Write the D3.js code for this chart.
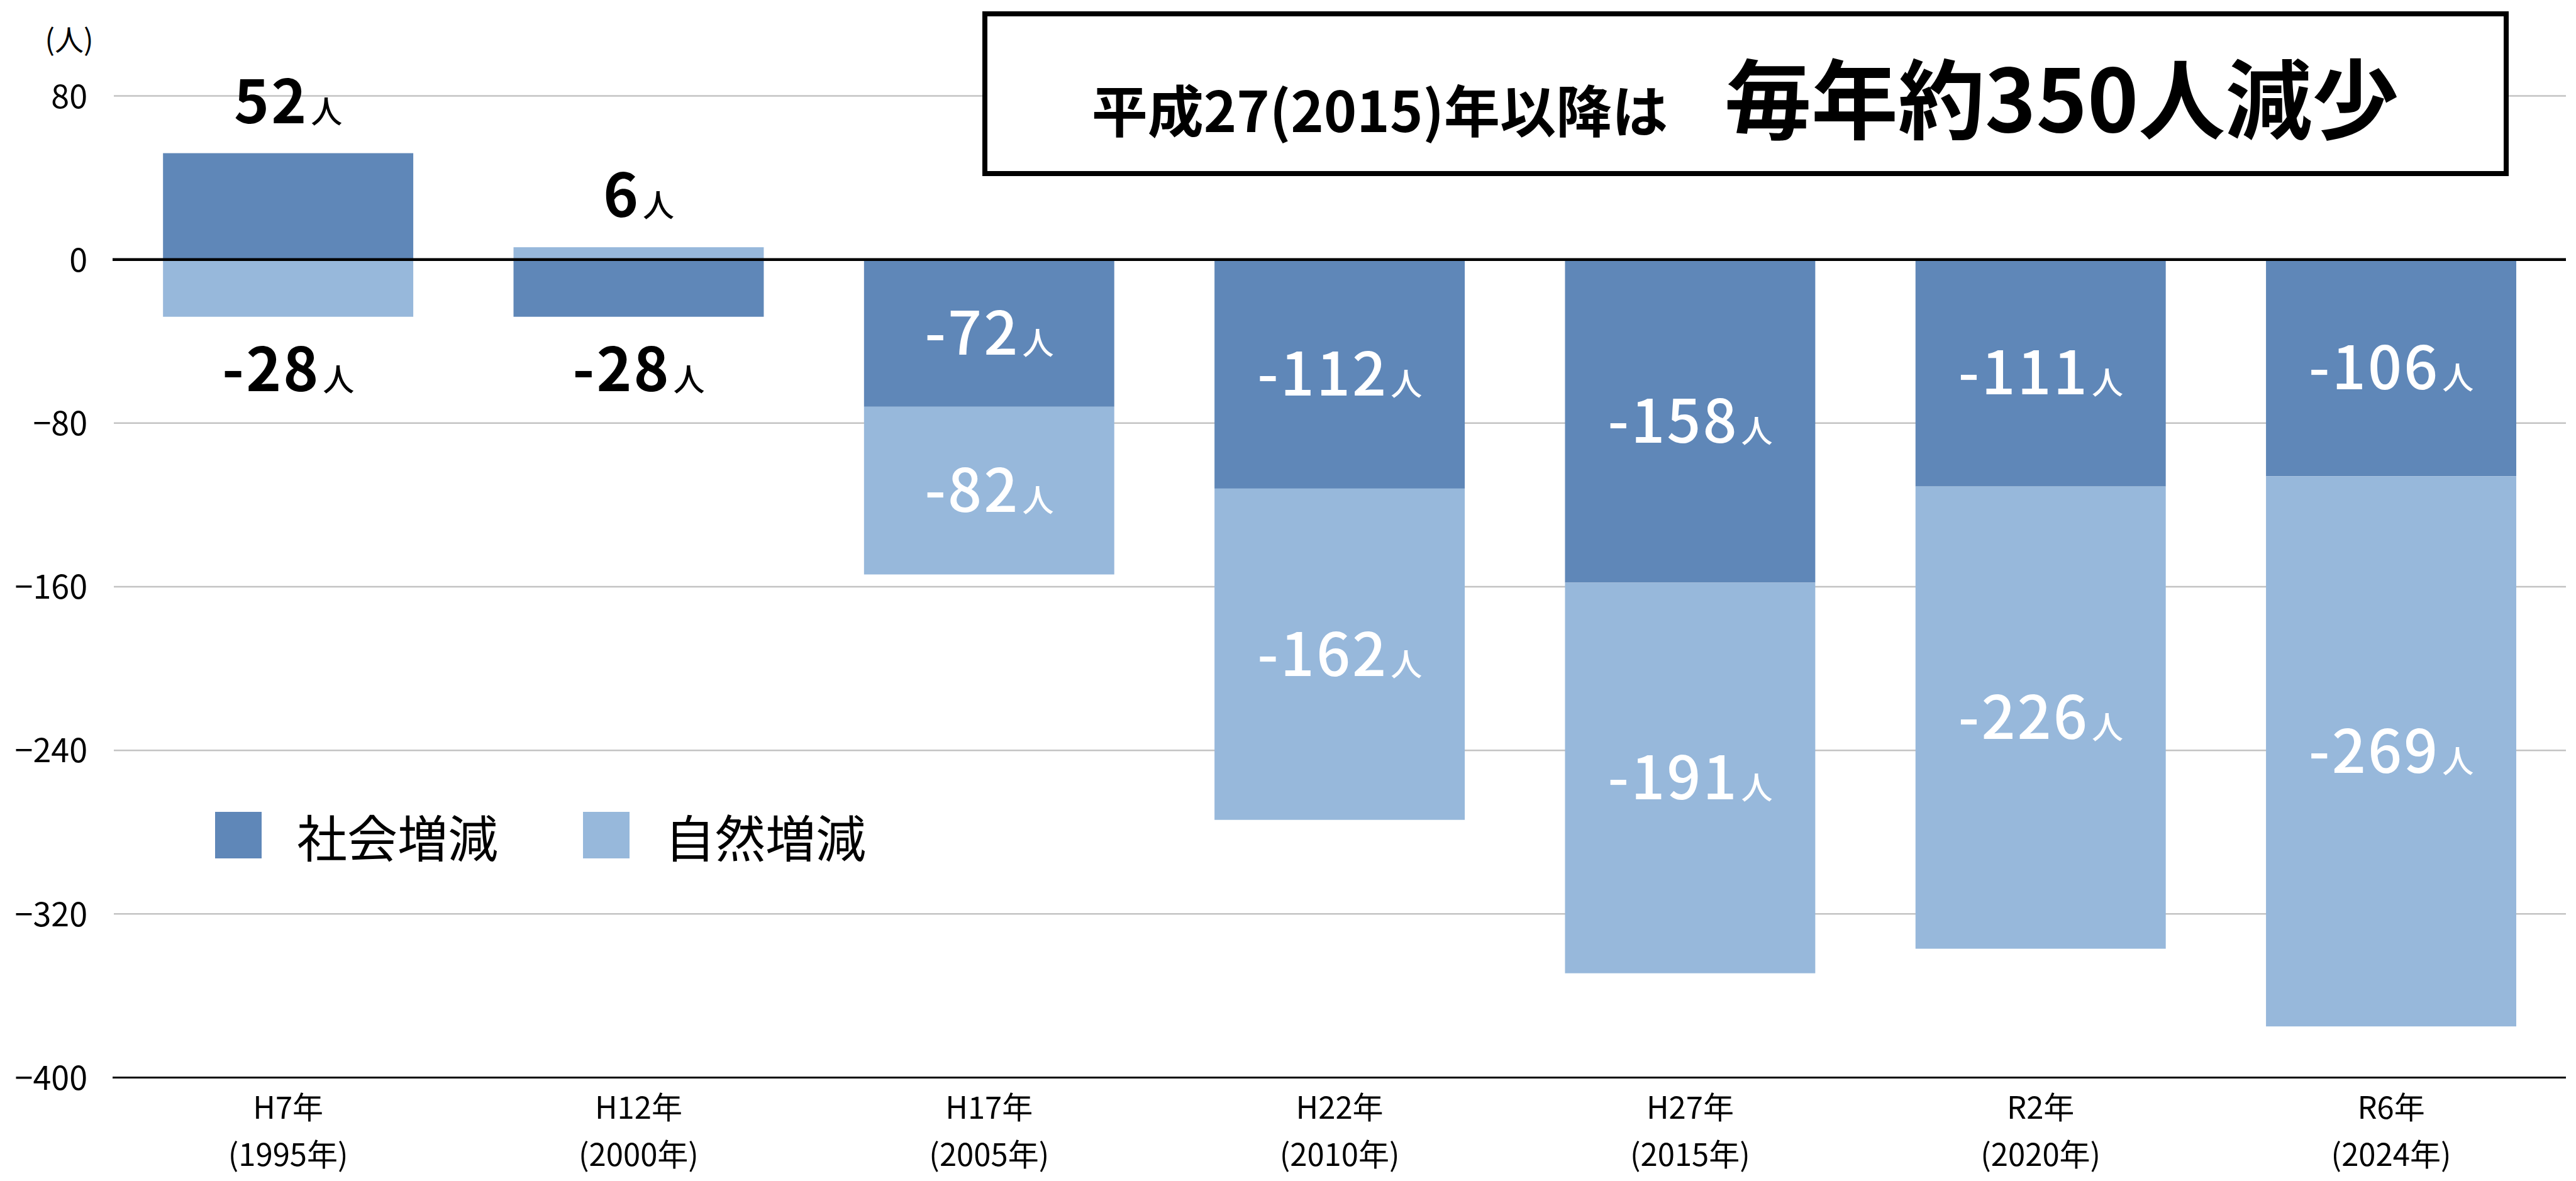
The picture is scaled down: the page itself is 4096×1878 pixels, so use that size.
<!DOCTYPE html>
<html>
<head>
<meta charset="utf-8">
<script src="https://cdn.jsdelivr.net/npm/d3@7"></script>
<style>
body { margin: 0; background: #fff; }
svg { display: block; font-family: "Noto Sans CJK JP", "Noto Sans", sans-serif; }
</style>
</head>
<body>
<script>
// data
var categories = ["H7年", "H12年", "H17年", "H22年", "H27年", "R2年", "R6年"];
var years = ["(1995年)", "(2000年)", "(2005年)", "(2010年)", "(2015年)", "(2020年)", "(2024年)"];
var social = [52, -28, -72, -112, -158, -111, -106];
var natural = [-28, 6, -82, -162, -191, -226, -269];
var seriesKeys = ["social", "natural"];
var seriesNames = ["社会増減", "自然増減"];
var yTicks = [80, 0, -80, -160, -240, -320, -400];
var unitLabel = "(人)";
var titleSmall = "平成27(2015)年以降は";
var titleBig = "毎年約350人減少";

var w = 4096, h = 1878;
var colors = { social: "#5f87b8", natural: "#97b8db" };

var svg = d3.select("body").append("svg")
    .attr("width", w)
    .attr("height", h);

var rows = categories.map(function (c, i) {
    return { cat: c, year: years[i], social: social[i], natural: natural[i] };
});

var x = d3.scaleBand()
    .domain(categories)
    .range([179.5, 4080.7])
    .paddingInner(0.286)
    .paddingOuter(0.143);

var y = d3.scaleLinear()
    .domain([-400, 80])
    .range([1713.5, 152.5]);

// gridlines
svg.append("g")
    .selectAll("line")
    .data(yTicks.filter(function (t) { return t !== 0 && t !== -400; }))
    .enter()
    .append("line")
    .attr("x1", 181).attr("x2", 4080)
    .attr("y1", function (d) { return y(d); })
    .attr("y2", function (d) { return y(d); })
    .attr("stroke", "#c3c3c3")
    .attr("stroke-width", 2.5);

// y axis labels
var yAxis = d3.axisLeft(y).tickValues(yTicks).tickSize(0).tickPadding(0);
var gy = svg.append("g")
    .attr("transform", "translate(139,0)")
    .call(yAxis);
gy.select(".domain").remove();
gy.selectAll("text")
    .attr("font-size", 52)
    .attr("fill", "#000")
    .attr("dy", "0.36em")
    .style("font-family", "'Noto Sans CJK JP', sans-serif");

svg.append("text")
    .attr("x", 110).attr("y", 60)
    .attr("text-anchor", "middle")
    .attr("dominant-baseline", "central")
    .attr("font-size", 46)
    .text(unitLabel);

// stacked bars
var stack = d3.stack().keys(seriesKeys).offset(d3.stackOffsetDiverging);
var layers = stack(rows);

svg.append("g")
    .selectAll("g")
    .data(layers)
    .enter()
    .append("g")
    .attr("fill", function (d) { return colors[d.key]; })
    .selectAll("rect")
    .data(function (d) { return d; })
    .enter()
    .append("rect")
    .attr("x", function (d) { return x(d.data.cat); })
    .attr("width", x.bandwidth())
    .attr("y", function (d) { return y(Math.max(d[0], d[1])); })
    .attr("height", function (d) { return Math.abs(y(d[0]) - y(d[1])); });

// zero line and bottom axis
svg.append("line")
    .attr("x1", 179).attr("x2", 4080)
    .attr("y1", y(0)).attr("y2", y(0))
    .attr("stroke", "#000").attr("stroke-width", 4.5);

svg.append("line")
    .attr("x1", 179).attr("x2", 4080)
    .attr("y1", y(-400)).attr("y2", y(-400))
    .attr("stroke", "#000").attr("stroke-width", 2.8);

// x labels
var gx = svg.append("g");
rows.forEach(function (r) {
    var cx = x(r.cat) + x.bandwidth() / 2;
    var t = gx.append("text")
        .attr("text-anchor", "middle")
        .attr("font-size", 49)
        .attr("fill", "#000");
    t.append("tspan").attr("x", cx).attr("y", 1779).text(r.cat);
    t.append("tspan").attr("x", cx).attr("y", 1854).text(r.year);
});

// value labels
var labels = [];
layers.forEach(function (layer) {
    layer.forEach(function (d) {
        var v = d.data[layer.key];
        var mixed = d.data.social > 0 || d.data.natural > 0;
        var lab = { cx: x(d.data.cat) + x.bandwidth() / 2, v: v };
        if (mixed) {
            lab.color = "#000";
            lab.weight = 700;
            if (v > 0) {
                lab.y = y(v) - 48;
            } else {
                var bottom = Math.min(d.data.social, d.data.natural, 0);
                lab.y = y(bottom) + 118;
            }
        } else {
            lab.color = "#fff";
            lab.weight = 500;
            lab.y = y((d[0] + d[1]) / 2) + 95 * 0.36;
        }
        labels.push(lab);
    });
});

var lt = svg.append("g")
    .selectAll("text")
    .data(labels)
    .enter()
    .append("text")
    .attr("x", function (d) { return d.cx; })
    .attr("y", function (d) { return d.y; })
    .attr("text-anchor", "middle")
    .attr("fill", function (d) { return d.color; });
lt.append("tspan")
    .attr("font-size", 95)
    .attr("font-weight", function (d) { return d.weight; })
    .attr("letter-spacing", 3)
    .text(function (d) { return d.v; });
lt.append("tspan")
    .attr("font-size", 50)
    .attr("font-weight", 500)
    .attr("dx", 4)
    .text("人");

// legend
var legend = svg.append("g");
var legendX = [342, 927];
seriesKeys.forEach(function (k, i) {
    legend.append("rect")
        .attr("x", legendX[i]).attr("y", 1291)
        .attr("width", 74).attr("height", 74)
        .attr("fill", colors[k]);
    legend.append("text")
        .attr("x", legendX[i] + 130).attr("y", 1328)
        .attr("dominant-baseline", "central")
        .attr("font-size", 80)
        .text(seriesNames[i]);
});

// title box
svg.append("rect")
    .attr("x", 1566).attr("y", 22)
    .attr("width", 2419).attr("height", 254)
    .attr("fill", "#fff")
    .attr("stroke", "#000")
    .attr("stroke-width", 8);

var title = svg.append("text")
    .attr("x", 2775).attr("y", 210)
    .attr("text-anchor", "middle")
    .attr("font-weight", 700);
title.append("tspan").attr("font-size", 89).text(titleSmall);
title.append("tspan").attr("font-size", 138).attr("dx", 90).text(titleBig);
</script>
</body>
</html>
